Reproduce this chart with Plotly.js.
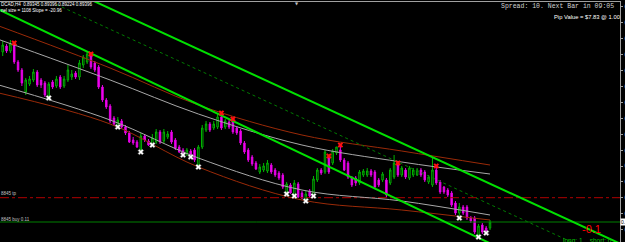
<!DOCTYPE html>
<html>
<head>
<meta charset="utf-8">
<script src="https://cdn.plot.ly/plotly-3.0.1.min.js"></script>
<style>html,body{margin:0;padding:0;background:#000;overflow:hidden}#chart{width:625px;height:242px}</style>
</head>
<body>
<div id="chart"></div>
<script>
// ---- candle data (AUDCAD H4) ----
const openP = [0.9048,0.9054,0.9049,0.9055,0.9038,0.9030,0.9008,0.9016,0.9020,0.9028,
0.9020,0.9017,0.9004,0.9018,0.9014,0.9023,0.9014,0.9020,0.9023,0.9027,
0.9023,0.9035,0.9038,0.9046,0.9037,0.9033,0.9013,0.9000,0.8994,0.8982,
0.8974,0.8979,0.8973,0.8967,0.8960,0.8958,0.8950,0.8964,0.8959,0.8956,
0.8958,0.8968,0.8959,0.8963,0.8968,0.8960,0.8953,0.8950,0.8946,0.8949,
0.8950,0.8935,0.8953,0.8970,0.8976,0.8972,0.8973,0.8983,0.8973,0.8978,
0.8979,0.8972,0.8969,0.8957,0.8950,0.8943,0.8937,0.8928,0.8930,0.8929,
0.8935,0.8930,0.8927,0.8925,0.8908,0.8915,0.8904,0.8916,0.8907,0.8901,
0.8909,0.8904,0.8920,0.8930,0.8928,0.8943,0.8937,0.8947,0.8950,0.8940,
0.8937,0.8922,0.8922,0.8917,0.8925,0.8925,0.8929,0.8928,0.8920,0.8920,
0.8920,0.8917,0.8923,0.8937,0.8925,0.8930,0.8922,0.8925,0.8925,0.8930,
0.8928,0.8918,0.8915,0.8930,0.8918,0.8913,0.8910,0.8907,0.8897,0.8887,
0.8893,0.8893,0.8882,0.8882,0.8865,0.8875,0.8872,0.8872];
const highP = [0.9059,0.9056,0.9060,0.9057,0.9040,0.9032,0.9022,0.9024,0.9031,0.9030,
0.9022,0.9019,0.9018,0.9020,0.9024,0.9025,0.9024,0.9035,0.9030,0.9029,
0.9040,0.9045,0.9049,0.9048,0.9039,0.9035,0.9015,0.9002,0.8996,0.8984,
0.8983,0.8981,0.8975,0.8969,0.8963,0.8960,0.8967,0.8966,0.8961,0.8966,
0.8971,0.8970,0.8971,0.8969,0.8970,0.8962,0.8955,0.8952,0.8952,0.8951,
0.8952,0.8955,0.8975,0.8979,0.8978,0.8979,0.8986,0.8987,0.8981,0.8980,
0.8981,0.8974,0.8971,0.8959,0.8952,0.8945,0.8939,0.8936,0.8937,0.8940,
0.8937,0.8932,0.8929,0.8927,0.8918,0.8917,0.8920,0.8918,0.8909,0.8909,
0.8911,0.8924,0.8932,0.8932,0.8950,0.8944,0.8951,0.8953,0.8955,0.8942,
0.8939,0.8924,0.8924,0.8930,0.8931,0.8932,0.8931,0.8930,0.8922,0.8928,
0.8922,0.8932,0.8945,0.8938,0.8934,0.8932,0.8934,0.8932,0.8932,0.8932,
0.8930,0.8925,0.8943,0.8934,0.8920,0.8914,0.8912,0.8909,0.8899,0.8897,
0.8895,0.8895,0.8884,0.8884,0.8876,0.8877,0.8874,0.8880];
const lowP = [0.9044,0.9047,0.9047,0.9036,0.9028,0.9014,0.9005,0.9014,0.9018,0.9013,
0.9012,0.9003,0.9002,0.9011,0.9012,0.9011,0.9012,0.9018,0.9020,0.9021,
0.9020,0.9032,0.9036,0.9031,0.9028,0.9011,0.8998,0.8991,0.8977,0.8974,
0.8972,0.8971,0.8965,0.8957,0.8955,0.8952,0.8948,0.8958,0.8954,0.8954,
0.8956,0.8956,0.8957,0.8961,0.8956,0.8950,0.8947,0.8945,0.8944,0.8943,
0.8938,0.8933,0.8951,0.8968,0.8968,0.8970,0.8971,0.8970,0.8971,0.8971,
0.8966,0.8965,0.8955,0.8946,0.8938,0.8934,0.8930,0.8926,0.8928,0.8927,
0.8926,0.8923,0.8920,0.8911,0.8906,0.8906,0.8903,0.8902,0.8901,0.8899,
0.8902,0.8903,0.8918,0.8925,0.8926,0.8926,0.8935,0.8945,0.8938,0.8929,
0.8921,0.8913,0.8914,0.8915,0.8923,0.8923,0.8923,0.8911,0.8913,0.8918,
0.8903,0.8915,0.8921,0.8923,0.8923,0.8921,0.8920,0.8923,0.8924,0.8923,
0.8918,0.8916,0.8913,0.8915,0.8906,0.8906,0.8903,0.8893,0.8885,0.8882,
0.8885,0.8880,0.8877,0.8866,0.8863,0.8866,0.8867,0.8870];
const closeP = [0.9055,0.9049,0.9056,0.9038,0.9030,0.9017,0.9020,0.9021,0.9028,0.9015,
0.9015,0.9005,0.9016,0.9013,0.9021,0.9013,0.9021,0.9030,0.9026,0.9023,
0.9037,0.9043,0.9046,0.9033,0.9030,0.9013,0.9000,0.8993,0.8979,0.8976,
0.8980,0.8973,0.8967,0.8958,0.8957,0.8953,0.8964,0.8960,0.8955,0.8962,
0.8968,0.8958,0.8968,0.8966,0.8958,0.8952,0.8948,0.8947,0.8950,0.8945,
0.8940,0.8953,0.8972,0.8976,0.8970,0.8976,0.8983,0.8972,0.8979,0.8973,
0.8968,0.8967,0.8957,0.8948,0.8940,0.8936,0.8931,0.8933,0.8934,0.8937,
0.8928,0.8925,0.8922,0.8913,0.8916,0.8907,0.8917,0.8903,0.8902,0.8906,
0.8904,0.8921,0.8930,0.8927,0.8948,0.8928,0.8949,0.8953,0.8940,0.8930,
0.8923,0.8915,0.8917,0.8928,0.8929,0.8929,0.8925,0.8913,0.8915,0.8926,
0.8905,0.8930,0.8937,0.8925,0.8932,0.8923,0.8932,0.8930,0.8930,0.8925,
0.8920,0.8923,0.8930,0.8917,0.8908,0.8908,0.8905,0.8895,0.8887,0.8893,
0.8887,0.8882,0.8879,0.8868,0.8874,0.8868,0.8869,0.8878];

// fractal / signal markers
const redIdx = [3,23,57,60,85,88,103,113];
const redPx  = [0.9057,0.9046,0.8987,0.8981,0.8944,0.8955,0.8937,0.8934];
const whiteIdx = [12,30,36,39,47,49,51,74,76,79,81,119,124,126];
const whitePx  = [0.9002,0.8973,0.8948,0.8955,0.8945,0.8943,0.8933,0.8906,0.8904,0.8899,0.8904,0.8882,0.8863,0.8867];

// regression channel curves
const curveIdx  = [-1,28,51,78,104,127];
const upperGray = [0.90605,0.9020,0.8986,0.8955,0.8938,0.8926];
const lowerGray = [0.9015,0.8980,0.8942,0.8910,0.8899,0.8885];
const upperRed  = [0.9074,0.9032,0.8995,0.8965,0.8949,0.8935];
const lowerRed  = [0.9007,0.8976,0.8933,0.8900,0.8890,0.8880];

// straight trend channel
const trendIdx   = [-1,161];
const trendUpper = [0.91427,0.88562];
const trendLower = [0.90905,0.87946];
const midIdx     = [14,161];
const trendMid   = [0.90955,0.88354];

// order levels
const tpLevel  = 0.89023;
const buyLevel = 0.8878;

const idx = openP.map((_, i) => i);
const XR = [-0.704, 160.88];

function line(x, y, color, width, dash, shape) {
  return {type:'scatter', mode:'lines', x:x, y:y, hoverinfo:'skip',
    line:{color:color, width:width, dash:dash||'solid', shape:shape||'linear', smoothing:1}};
}

const traces = [
  line(XR, [tpLevel,tpLevel], '#b00000', 1, 'dashdot'),
  line(XR, [buyLevel,buyLevel], '#008000', 1),
  line(curveIdx, upperRed, '#9a2a08', 1, 'solid', 'spline'),
  line(curveIdx, lowerRed, '#9a2a08', 1, 'solid', 'spline'),
  line(curveIdx, upperGray, '#a8a8a8', 1, 'solid', 'spline'),
  line(curveIdx, lowerGray, '#a8a8a8', 1, 'solid', 'spline'),
  {type:'candlestick', x:idx, open:openP, high:highP, low:lowP, close:closeP,
   increasing:{line:{color:'#00b400', width:1}, fillcolor:'#000000'},
   decreasing:{line:{color:'#e000e0', width:1}, fillcolor:'#ff00ff'},
   whiskerwidth:0, hoverinfo:'skip'},
  line(midIdx, trendMid, '#007a00', 1, 'dot'),
  line(trendIdx, trendUpper, '#00e000', 2),
  line(trendIdx, trendLower, '#00e000', 2),
  {type:'scatter', mode:'markers', x:redIdx, y:redPx, hoverinfo:'skip',
   marker:{symbol:'x', size:5, color:'#ff1010', line:{width:0}}},
  {type:'scatter', mode:'markers', x:whiteIdx, y:whitePx, hoverinfo:'skip',
   marker:{symbol:'x', size:5, color:'#ffffff', line:{width:0.5, color:'#808080'}}}
];

function px(x){return x/620;}
function py(y){return (242-y)/240;}
const ann = (o) => Object.assign({showarrow:false, xref:'paper', yref:'paper', borderpad:0}, o);

const layout = {
  width:625, height:242,
  margin:{l:0, r:5, t:2, b:0, pad:0},
  paper_bgcolor:'#000000', plot_bgcolor:'#000000',
  showlegend:false, boxgap:0.45,
  xaxis:{range:XR, side:'top', showline:true, linecolor:'#a0a0a0', linewidth:1,
    showticklabels:false, ticks:'', showgrid:false, zeroline:false,
    rangeslider:{visible:false}, fixedrange:true, automargin:false},
  yaxis:{range:[0.8858,0.9098], side:'right', showline:true, linecolor:'#a0a0a0', linewidth:1,
    ticks:'outside', ticklen:2, tickcolor:'#a0a0a0', tick0:0.89021, dtick:0.001595,
    tickformat:'.5f', tickfont:{family:'Liberation Sans', size:7, color:'#c8c8c8'},
    showgrid:false, zeroline:false, fixedrange:true, automargin:false},
  annotations:[
    ann({x:0, y:py(4.5), xanchor:'left', yanchor:'middle', text:'DCAD,H4  0.89345 0.89396 0.89224 0.89396',
      font:{family:'Liberation Sans', size:4.5, color:'#ffffff'}}),
    ann({x:0, y:py(10.5), xanchor:'left', yanchor:'middle', text:'nel size = 1108 Slope = -20.96',
      font:{family:'Liberation Sans', size:4.5, color:'#ffffff'}}),
    ann({x:px(615), y:py(6), xanchor:'right', yanchor:'middle', text:'Spread: 10. Next Bar in 09:05',
      font:{family:'Liberation Mono', size:6.5, color:'#d0d0d0'}}),
    ann({x:px(621), y:py(17), xanchor:'right', yanchor:'middle', text:'Pip Value = $7.83 @ 1.00',
      font:{family:'Liberation Sans', size:5.8, color:'#ffffff'}}),
    ann({x:px(297), y:py(4), xanchor:'center', yanchor:'middle', text:'▼',
      font:{family:'DejaVu Sans', size:4, color:'#c0c0c0'}}),
    ann({x:0, y:py(193), xanchor:'left', yanchor:'middle', text:'8845 tp',
      font:{family:'Liberation Sans', size:4.5, color:'#c0c0c0'}}),
    ann({x:0, y:py(219.5), xanchor:'left', yanchor:'middle', text:'8845 buy 0.11',
      font:{family:'Liberation Sans', size:4.5, color:'#c0c0c0'}}),
    ann({x:px(591), y:py(229), xanchor:'center', yanchor:'middle', text:'-0.1',
      font:{family:'Liberation Sans', size:11, color:'#ff0000'}}),
    ann({x:px(562), y:py(240.5), xanchor:'left', yanchor:'middle', text:'long: 1    short: 0',
      font:{family:'Liberation Sans', size:6.5, color:'#00c000'}}),
    ann({x:1, y:buyLevel, yref:'y', xanchor:'left', yanchor:'middle', text:'0.88780',
      bgcolor:'#ffffff', font:{family:'Liberation Sans', size:5, color:'#000000'}})
  ]
};

Plotly.newPlot('chart', traces, layout, {displayModeBar:false, staticPlot:true});
</script>
</body>
</html>
